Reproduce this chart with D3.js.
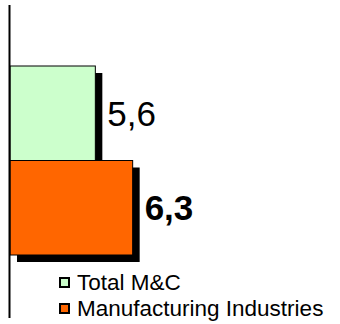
<!DOCTYPE html>
<html>
<head>
<meta charset="utf-8">
<script src="https://cdn.jsdelivr.net/npm/d3@7/dist/d3.min.js"></script>
<style>
  html, body { margin: 0; padding: 0; background: #fff; }
  svg { display: block; font-family: "Liberation Sans", Arial, sans-serif; }
</style>
</head>
<body>
<svg id="chart" width="340" height="324"></svg>
<script>
// Series, top to bottom
const categories = ["Total M&C", "Manufacturing Industries"];
const values = [5.6, 6.3];
const valueLabels = ["5,6", "6,3"];
const colors = ["#CCFFCC", "#FF6600"];
const labelBold = [false, true];

const svg = d3.select("#chart");

// Value axis starts at 4, not zero
const x = d3.scaleLinear().domain([4, 10]).range([10, 330]);
const y = d3.scaleBand().domain(categories).range([66, 255]).padding(0);

const shadow = 7;

// drop shadows behind the bars
svg.append("g").selectAll("rect")
  .data(categories)
  .join("rect")
  .attr("x", x(4) + shadow)
  .attr("y", d => y(d) + shadow)
  .attr("width", (d, i) => x(values[i]) - x(4))
  .attr("height", y.bandwidth())
  .attr("fill", "#000");

// bars
svg.append("g").selectAll("rect")
  .data(categories)
  .join("rect")
  .attr("x", x(4))
  .attr("y", d => y(d))
  .attr("width", (d, i) => x(values[i]) - x(4))
  .attr("height", y.bandwidth())
  .attr("fill", (d, i) => colors[i])
  .attr("stroke", "#000")
  .attr("stroke-width", 1);

// value labels
svg.append("g").selectAll("text")
  .data(categories)
  .join("text")
  .attr("x", (d, i) => x(values[i]) + shadow + 5)
  .attr("y", d => y(d) + y.bandwidth() / 2 + 12.5)
  .attr("font-size", 35)
  .attr("font-weight", (d, i) => labelBold[i] ? "bold" : "normal")
  .attr("fill", "#000")
  .text((d, i) => valueLabels[i]);

// category axis line
svg.append("line")
  .attr("x1", 9.5).attr("x2", 9.5)
  .attr("y1", 5).attr("y2", 318)
  .attr("stroke", "#000")
  .attr("stroke-width", 2);

// legend
const legend = svg.append("g").attr("transform", "translate(59,0)");
const rowBase = [290, 316];
const item = legend.selectAll("g")
  .data(categories)
  .join("g")
  .attr("transform", (d, i) => `translate(0,${rowBase[i]})`);
item.append("rect")
  .attr("x", 1).attr("y", -12)
  .attr("width", 9).attr("height", 9)
  .attr("fill", (d, i) => colors[i])
  .attr("stroke", "#000")
  .attr("stroke-width", 2);
item.append("text")
  .attr("x", 18)
  .attr("y", 0)
  .attr("font-size", 22.5)
  .attr("fill", "#000")
  .text(d => d);
</script>
</body>
</html>
